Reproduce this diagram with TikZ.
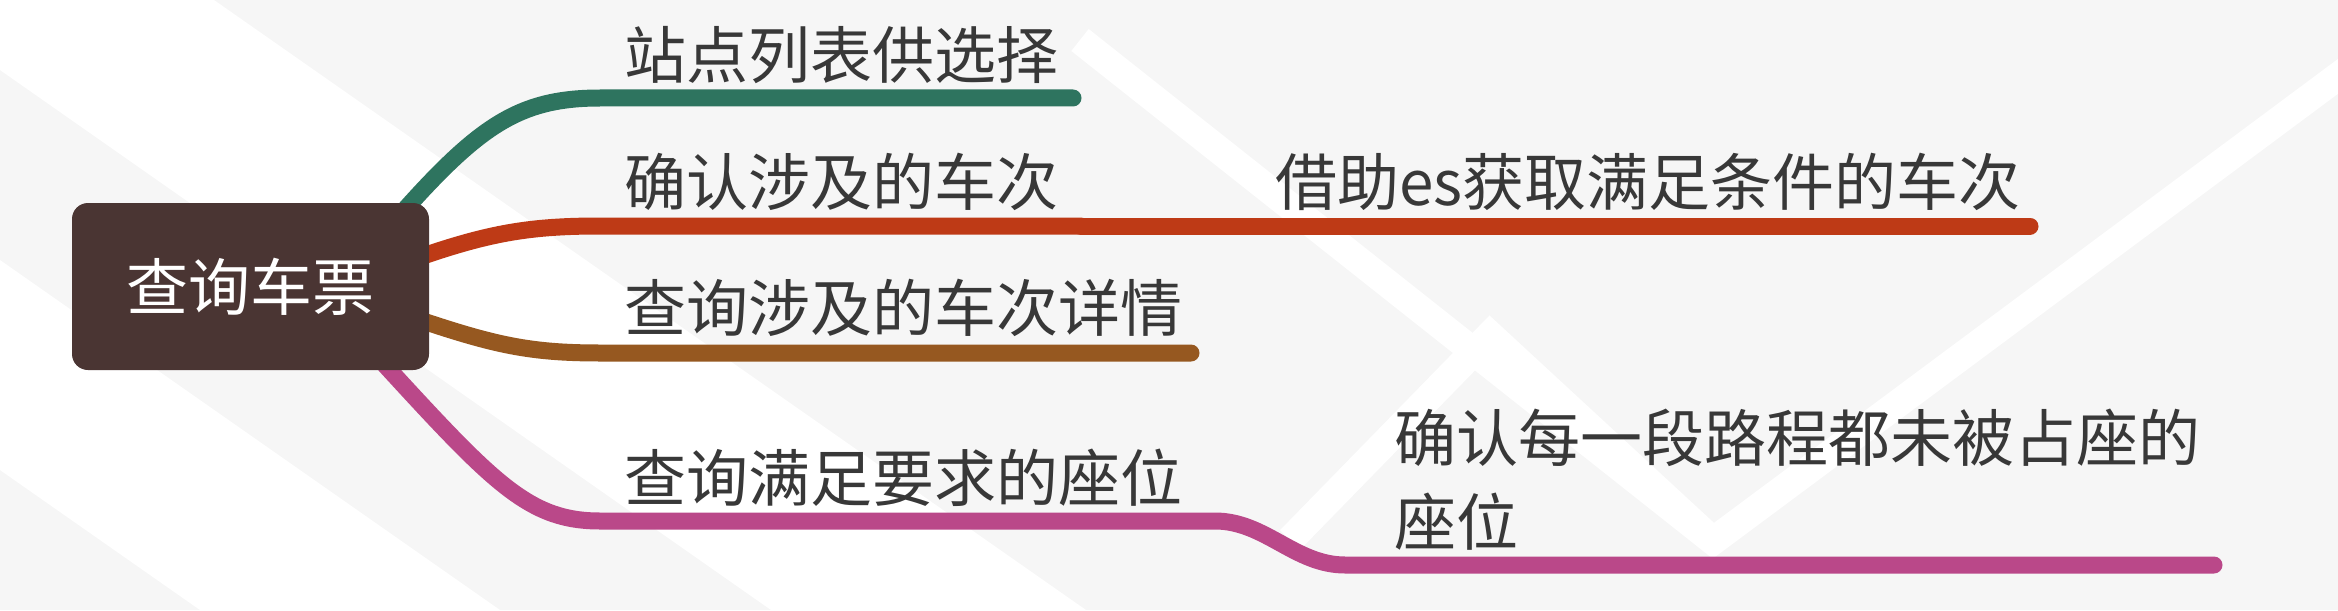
\documentclass[tikz,border=0pt]{standalone}
\usepackage{fontspec}
\setmainfont{Noto Sans CJK SC}
\definecolor{bgG}{HTML}{F6F6F6}
\definecolor{boxC}{HTML}{4A3533}
\definecolor{txtC}{HTML}{383838}
\definecolor{gC}{HTML}{2E745F}
\definecolor{rC}{HTML}{BE3A16}
\definecolor{bC}{HTML}{965820}
\definecolor{pC}{HTML}{BA4889}
\pgfdeclarelayer{bglayer}
\pgfsetlayers{bglayer,main}
\begin{document}
\begin{tikzpicture}[x=0.5pt,y=-0.5pt,
  branch/.style={line width=8.5pt, line cap=round},
  leaf/.style={anchor=base west, inner sep=0pt, text=txtC, font=\fontsize{31pt}{42pt}\selectfont},
  rootbox/.style={fill=boxC, rounded corners=8pt, minimum width=178.5pt, minimum height=83.5pt,
    inner sep=0pt, text=white, font=\fontsize{31pt}{42pt}\selectfont}]
\useasboundingbox (0,0) rectangle (2338,610);

% root and leaves
\node[rootbox] (root) at (250.5,286.5) {查询车票};
\node[leaf] (n1) at (624,78.5) {站点列表供选择};
\node[leaf] (n2) at (624,205.5) {确认涉及的车次};
\node[leaf] (n3) at (624,331.5) {查询涉及的车次详情};
\node[leaf] (n4) at (624,501.5) {查询满足要求的座位};
\node[leaf] (m2) at (1275,205.5) {借助es获取满足条件的车次};
\node[leaf] (m4a) at (1394,461.5) {确认每一段路程都未被占座的};
\node[leaf] (m4b) at (1394,545.5) {座位};

% connector coordinates
\coordinate (gS) at (400,215);
\coordinate (gE) at (1073,98);
\coordinate (rS) at (420,257);
\coordinate (rM) at (1081,226);
\coordinate (rE) at (2030,226);
\coordinate (bS) at (420,320);
\coordinate (bE) at (1191,353);
\coordinate (pS) at (385,365);
\coordinate (pM) at (1215,521);
\coordinate (pE) at (2214,565);

\begin{pgfonlayer}{bglayer}
  % faint background watermark
  \fill[bgG] (0,0) rectangle (2338,610);
  \fill[white] (0,0) -- (214,0) -- (1086,610) -- (771,610) -- (0,70) -- cycle;
  \fill[white] (0,260) -- (500,610) -- (200,610) -- (0,470) -- cycle;
  \draw[white, line width=14pt] (1080,40) -- (1713,541) -- (2360,60);
  \draw[white, line width=14pt] (1290,540) -- (1490,335) -- (1713,541);
  % branches
  \draw[branch, gC] (gS) .. controls (480,125) and (520,98) .. (600,98) -- (gE);
  \draw[branch, rC] (rS) .. controls (490,233) and (530,226) .. (600,226) -- (rM);
  \draw[branch, rC] (rM) -- (rE);
  \draw[branch, bC] (bS) .. controls (495,345) and (530,353) .. (600,353) -- (bE);
  \draw[branch, pC] (pS) .. controls (495,485) and (530,521) .. (600,521) -- (pM)
     .. controls (1265,521) and (1295,565) .. (1345,565) -- (pE);
\end{pgfonlayer}
\end{tikzpicture}
\end{document}
